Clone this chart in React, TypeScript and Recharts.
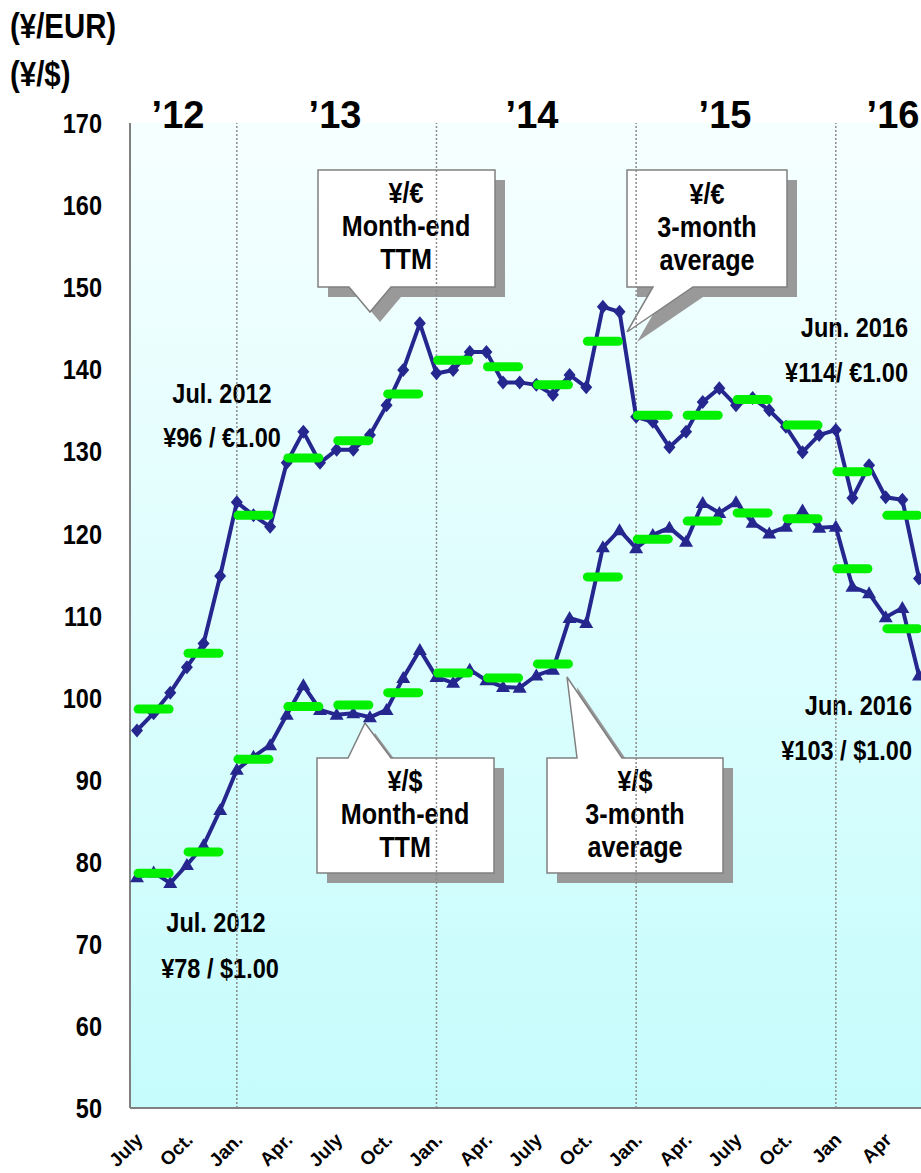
import React from 'react';
import {
  ComposedChart,
  Line,
  Scatter,
  XAxis,
  YAxis,
  CartesianGrid,
  ReferenceLine,
} from 'recharts';

// month index 0 = July 2012 ... 47 = June 2016
const EUR_MONTH_END = [
  96.0, 98.1, 100.6, 103.7, 106.6, 114.8, 123.8, 122.2, 120.8, 128.6, 132.4, 128.6,
  130.2, 130.2, 132.0, 135.6, 139.9, 145.6, 139.5, 139.9, 142.1, 142.1, 138.4, 138.4,
  138.1, 136.9, 139.3, 137.8, 147.6, 147.0, 134.2, 133.6, 130.5, 132.4, 136.0, 137.7,
  135.6, 136.5, 135.0, 133.0, 129.9, 132.0, 132.6, 124.3, 128.3, 124.4, 124.1, 114.5,
];
const USD_MONTH_END = [
  78.1, 78.7, 77.4, 79.6, 82.0, 86.3, 91.2, 92.8, 94.2, 97.9, 101.5, 98.5,
  97.9, 98.1, 97.6, 98.5, 102.4, 105.8, 102.5, 101.8, 103.4, 102.1, 101.3, 101.2,
  102.7, 103.4, 109.7, 109.1, 118.3, 120.4, 118.2, 119.8, 120.7, 119.0, 123.7, 122.5,
  123.8, 121.3, 120.0, 120.8, 122.8, 120.7, 120.8, 113.5, 112.7, 109.8, 110.9, 102.7,
];
// 3-month averages, plotted on the middle month of each quarter (index 1, 4, 7 ...)
const QUARTER_MID = [1, 4, 7, 10, 13, 16, 19, 22, 25, 28, 31, 34, 37, 40, 43, 46];
const EUR_AVG = [98.6, 105.4, 122.2, 129.2, 131.3, 137.0, 141.1, 140.3, 138.1, 143.4, 134.4, 134.4, 136.3, 133.2, 127.5, 122.2];
const USD_AVG = [78.6, 81.2, 92.5, 98.9, 99.1, 100.6, 103.0, 102.4, 104.1, 114.7, 119.3, 121.5, 122.5, 121.8, 115.7, 108.4];

const X_TICKS = [0, 3, 6, 9, 12, 15, 18, 21, 24, 27, 30, 33, 36, 39, 42, 45];
const X_LABELS = ['July', 'Oct.', 'Jan.', 'Apr.', 'July', 'Oct.', 'Jan.', 'Apr.', 'July', 'Oct.', 'Jan.', 'Apr.', 'July', 'Oct.', 'Jan', 'Apr'];
const Y_TICKS = [50, 60, 70, 80, 90, 100, 110, 120, 130, 140, 150, 160, 170];
const YEAR_STARTS = [6, 18, 30, 42];
const YEARS = ['\u201912', '\u201913', '\u201914', '\u201915', '\u201916'];

const NAVY = '#26268f';
const GREEN = '#00f000';
const SANS = "'Liberation Sans', Arial, sans-serif";
const SQUEEZE = 0.84; // the original uses a condensed bold face

const rows = EUR_MONTH_END.map((eur, i) => ({ i, eur, usd: USD_MONTH_END[i] }));
const eurAvg = QUARTER_MID.map((i, k) => ({ i, v: EUR_AVG[k] }));
const usdAvg = QUARTER_MID.map((i, k) => ({ i, v: USD_AVG[k] }));

const Diamond = (p: any) => {
  const { cx, cy } = p;
  if (cx == null || cy == null) return <g key={p.key} />;
  return (
    <polygon
      key={p.key}
      points={`${cx},${cy - 7} ${cx + 6},${cy} ${cx},${cy + 7} ${cx - 6},${cy}`}
      fill={NAVY}
    />
  );
};

const Triangle = (p: any) => {
  const { cx, cy } = p;
  if (cx == null || cy == null) return <g key={p.key} />;
  return (
    <polygon
      key={p.key}
      points={`${cx},${cy - 7} ${cx + 7},${cy + 5} ${cx - 7},${cy + 5}`}
      fill={NAVY}
    />
  );
};

const AvgBar = (p: any) => (
  <line
    x1={p.cx - 15.5}
    x2={p.cx + 15.5}
    y1={p.cy}
    y2={p.cy}
    stroke={GREEN}
    strokeWidth={9}
    strokeLinecap="round"
  />
);

// condensed bold text
const NText = ({ x, y, anchor = 'start', size, dy, children }: any) => (
  <text
    transform={`translate(${x},${y}) scale(${SQUEEZE},1)`}
    textAnchor={anchor}
    dy={dy}
    fontFamily={SANS}
    fontWeight="bold"
    fontSize={size}
    fill="#000"
  >
    {children}
  </text>
);

const MonthTick = ({ x, y, payload }: any) => {
  const k = X_TICKS.indexOf(payload.value);
  const px = x + 7;
  const py = y + 33;
  return (
    <text
      x={px}
      y={py}
      transform={`rotate(-45, ${px}, ${py})`}
      textAnchor="end"
      fontFamily={SANS}
      fontWeight="bold"
      fontSize={19}
      fill="#000"
    >
      {X_LABELS[k]}
    </text>
  );
};

const ValueTick = ({ x, y, payload }: any) => (
  <NText x={x} y={y} anchor="end" size={28} dy="0.36em">
    {payload.value}
  </NText>
);

const Callout = ({ path, cx, lines, y0 }: { path: string; cx: number; lines: string[]; y0: number }) => (
  <g>
    <path d={path} fill="#999" transform="translate(10,10)" />
    <path d={path} fill="#fff" stroke="#808080" strokeWidth={1.5} />
    {lines.map((t, k) => (
      <NText key={k} x={cx} y={y0 + k * 33} anchor="middle" size={30}>
        {t}
      </NText>
    ))}
  </g>
);

export default function App() {
  return (
    <div style={{ position: 'absolute', left: 0, top: 0, background: '#fff' }}>
      <ComposedChart
        width={921}
        height={1173}
        data={rows}
        margin={{ top: 123, right: 0, bottom: 0, left: 70 }}
      >
        <defs>
          <linearGradient id="plotBg" x1="0" y1="0" x2="0" y2="1">
            <stop offset="0%" stopColor="#f6ffff" />
            <stop offset="100%" stopColor="#c6fcfc" />
          </linearGradient>
        </defs>
        <CartesianGrid horizontal={false} vertical={false} fill="url(#plotBg)" stroke="none" />
        <XAxis
          type="number"
          dataKey="i"
          domain={[-0.42, 47.12]}
          ticks={X_TICKS}
          interval={0}
          height={65}
          tickSize={0}
          tickMargin={0}
          tick={<MonthTick />}
          axisLine={{ stroke: '#808080', strokeWidth: 2 }}
          allowDataOverflow
        />
        <YAxis
          type="number"
          domain={[50, 170]}
          ticks={Y_TICKS}
          interval={0}
          width={60}
          tickSize={0}
          tickMargin={28}
          tick={<ValueTick />}
          axisLine={{ stroke: '#808080', strokeWidth: 2 }}
          allowDataOverflow
        />
        {YEAR_STARTS.map((x) => (
          <ReferenceLine key={x} x={x} stroke="#8a8a8a" strokeWidth={1.5} strokeDasharray="2 2" />
        ))}
        <Line
          dataKey="eur"
          stroke={NAVY}
          strokeWidth={4}
          dot={Diamond}
          activeDot={false}
          isAnimationActive={false}
        />
        <Line
          dataKey="usd"
          stroke={NAVY}
          strokeWidth={4}
          dot={Triangle}
          activeDot={false}
          isAnimationActive={false}
        />
        <Scatter data={eurAvg} dataKey="v" shape={AvgBar} isAnimationActive={false} />
        <Scatter data={usdAvg} dataKey="v" shape={AvgBar} isAnimationActive={false} />

        <g>
          <NText x={10} y={38} size={35}>(¥/EUR)</NText>
          <NText x={10} y={86} size={35}>(¥/$)</NText>
          {[178, 335, 532, 725, 893].map((x, k) => (
            <text key={k} x={x} y={128} textAnchor="middle" fontFamily={SANS} fontWeight="bold" fontSize={38} fill="#000">
              {YEARS[k]}
            </text>
          ))}
          <NText x={222} y={403} anchor="middle" size={28}>Jul. 2012</NText>
          <NText x={222} y={447} anchor="middle" size={28}>¥96 / €1.00</NText>
          <NText x={216} y={932} anchor="middle" size={28}>Jul. 2012</NText>
          <NText x={220} y={978} anchor="middle" size={28}>¥78 / $1.00</NText>
          <NText x={908} y={337} anchor="end" size={28}>Jun. 2016</NText>
          <NText x={908} y={382} anchor="end" size={28}>¥114/ €1.00</NText>
          <NText x={912} y={715} anchor="end" size={28}>Jun. 2016</NText>
          <NText x={912} y={760} anchor="end" size={28}>¥103 / $1.00</NText>
          <Callout
            path="M318,170 H495 V287 H391 L370,312 L349,287 H318 Z"
            cx={406}
            y0={203}
            lines={['¥/€', 'Month-end', 'TTM']}
          />
          <Callout
            path="M627,170 H787 V287 H693 L627,332 L653,287 H627 Z"
            cx={707}
            y0={204}
            lines={['¥/€', '3-month', 'average']}
          />
          <Callout
            path="M317,758 H348 L365,723 L391,758 H494 V873 H317 Z"
            cx={405}
            y0={791}
            lines={['¥/$', 'Month-end', 'TTM']}
          />
          <Callout
            path="M547,758 H577 L567,677 L622,758 H723 V873 H547 Z"
            cx={635}
            y0={791}
            lines={['¥/$', '3-month', 'average']}
          />
        </g>
      </ComposedChart>
    </div>
  );
}
